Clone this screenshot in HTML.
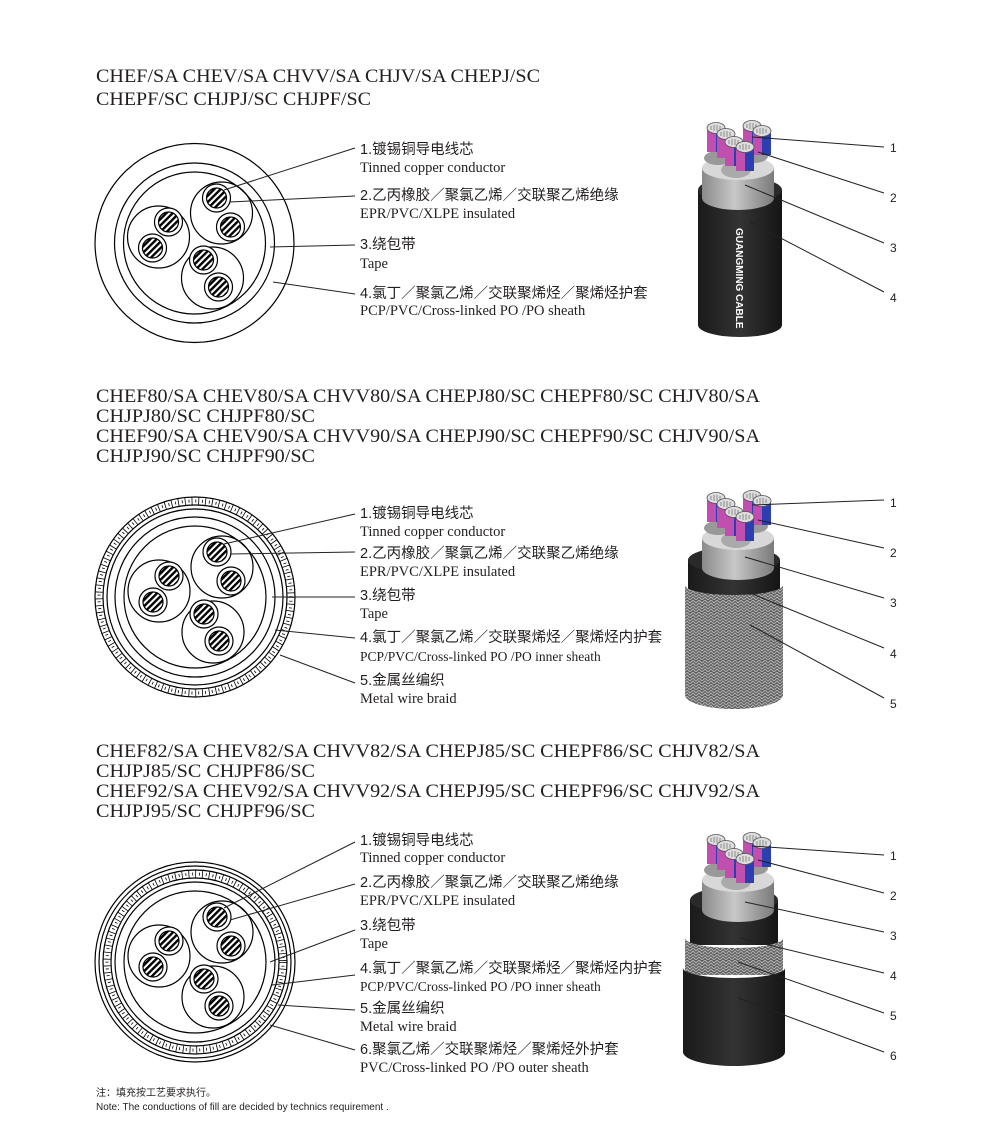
<!DOCTYPE html>
<html><head><meta charset="utf-8"><style>
html,body{margin:0;padding:0;background:#fff;}
svg{display:block}
.t{font-family:"Liberation Serif",serif;font-size:19px;fill:#231f20}
.c{font-family:"Liberation Sans","Noto Sans CJK SC",sans-serif;font-size:14.5px;fill:#231f20}
.e{font-family:"Liberation Serif",serif;font-size:14.5px;fill:#231f20}
.n{font-family:"Liberation Sans",sans-serif;font-size:12px;fill:#231f20}
.f{font-family:"Liberation Sans","Noto Sans CJK SC",sans-serif;font-size:10px;fill:#231f20}
</style></head><body>
<svg width="1000" height="1122" viewBox="0 0 1000 1122" xmlns="http://www.w3.org/2000/svg">
<defs>
<pattern id="st" width="4.5" height="4.5" patternUnits="userSpaceOnUse" patternTransform="rotate(45)">
<rect width="4.5" height="4.5" fill="#fff"/><rect width="2.4" height="4.5" fill="#000"/>
</pattern>
<pattern id="br" width="6" height="6" patternUnits="userSpaceOnUse">
<rect width="6" height="6" fill="#5c5c5c"/>
<path d="M0 3 L3 0 L6 3 M0 6 L3 3 L6 6" stroke="#b0b0b0" stroke-width="1.1" fill="none"/>
</pattern>
<linearGradient id="gr" x1="0" x2="1"><stop offset="0" stop-color="#8a8a8a"/><stop offset=".45" stop-color="#c8c8c8"/><stop offset="1" stop-color="#7a7a7a"/></linearGradient>
<linearGradient id="bk" x1="0" x2="1"><stop offset="0" stop-color="#1a1a1a"/><stop offset=".5" stop-color="#333"/><stop offset="1" stop-color="#151515"/></linearGradient>
<g id="core"><circle r="14" fill="#fff" stroke="#000" stroke-width="1.2"/><circle r="10" fill="url(#st)" stroke="#000" stroke-width="1.2"/></g>
<g id="inner" fill="none" stroke="#000" stroke-width="1.2">
<circle cx="27" cy="-30" r="31"/><circle cx="-36" cy="-6" r="31"/><circle cx="18" cy="35" r="31"/>
<use href="#core" x="22" y="-45"/><use href="#core" x="36" y="-16"/>
<use href="#core" x="-26" y="-21"/><use href="#core" x="-42" y="5"/>
<use href="#core" x="9" y="17"/><use href="#core" x="24" y="44"/>
</g>
<g id="ends">
<rect x="-9" y="0" width="18" height="24" fill="#c04fb0"/><rect x="0" y="0" width="9" height="24" fill="#2b3fb0"/>
<ellipse cx="0" cy="0" rx="9" ry="5.5" fill="#ddd" stroke="#555" stroke-width=".8"/>
<path d="M-5 -2 V2 M-2 -3 V3 M1 -3 V3 M4 -2 V2" stroke="#777" stroke-width=".8"/>
</g>
<g id="top">
<path d="M-36 40 V70 A36 12 0 0 0 36 70 V40 Z" fill="url(#gr)"/>
<ellipse cx="0" cy="40" rx="36" ry="12" fill="#d8d8d8"/>
<ellipse cx="-20" cy="30" rx="14" ry="7" fill="#999"/><ellipse cx="16" cy="28" rx="14" ry="7" fill="#999"/><ellipse cx="-2" cy="42" rx="15" ry="8" fill="#aaa"/>
<use href="#ends" x="-22" y="0"/><use href="#ends" x="-12" y="6"/>
<use href="#ends" x="14" y="-2"/><use href="#ends" x="24" y="3"/>
<use href="#ends" x="-4" y="14"/><use href="#ends" x="7" y="19"/>
</g>
</defs>

<!-- Section 1 -->
<text class="t" x="96" y="82" textLength="444" lengthAdjust="spacingAndGlyphs">CHEF/SA CHEV/SA CHVV/SA CHJV/SA CHEPJ/SC</text>
<text class="t" x="96" y="105" textLength="275" lengthAdjust="spacingAndGlyphs">CHEPF/SC CHJPJ/SC CHJPF/SC</text>
<g transform="translate(194.5,243)" fill="none" stroke="#000" stroke-width="1.2">
<circle r="99.5"/><circle r="80"/><circle r="71"/>
<use href="#inner"/>
</g>
<g stroke="#222" stroke-width="1">
<line x1="224" y1="190" x2="355" y2="148"/><line x1="230" y1="202" x2="355" y2="196"/>
<line x1="270" y1="247" x2="355" y2="245"/><line x1="273" y1="282" x2="355" y2="294"/>
</g>
<text class="c" x="360" y="154">1.镀锡铜导电线芯</text><text class="e" x="360" y="172">Tinned copper conductor</text>
<text class="c" x="360" y="200">2.乙丙橡胶／聚氯乙烯／交联聚乙烯绝缘</text><text class="e" x="360" y="218">EPR/PVC/XLPE insulated</text>
<text class="c" x="360" y="249">3.绕包带</text><text class="e" x="360" y="268">Tape</text>
<text class="c" x="360" y="298">4.氯丁／聚氯乙烯／交联聚烯烃／聚烯烃护套</text><text class="e" x="360" y="315">PCP/PVC/Cross-linked PO /PO sheath</text>
<g>
<path d="M698 190 V325 A42 12 0 0 0 782 325 V190 Z" fill="url(#bk)"/>
<ellipse cx="740" cy="190" rx="42" ry="13" fill="#2a2a2a"/>
<use href="#top" x="738" y="128"/>
<text x="736" y="228" transform="rotate(90 736 228)" font-family="Liberation Sans,sans-serif" font-size="10" font-weight="bold" fill="#fff">GUANGMING CABLE</text>
</g>
<g stroke="#222" stroke-width="1">
<line x1="752" y1="137" x2="884" y2="147"/><line x1="758" y1="152" x2="884" y2="193"/>
<line x1="745" y1="185" x2="884" y2="243"/><line x1="750" y1="222" x2="884" y2="292"/>
</g>
<text class="n" x="890" y="152">1</text><text class="n" x="890" y="202">2</text><text class="n" x="890" y="252">3</text><text class="n" x="890" y="302">4</text>

<!-- Section 2 -->
<text class="t" x="96" y="402" textLength="664" lengthAdjust="spacingAndGlyphs">CHEF80/SA CHEV80/SA CHVV80/SA CHEPJ80/SC CHEPF80/SC CHJV80/SA</text>
<text class="t" x="96" y="422" textLength="219" lengthAdjust="spacingAndGlyphs">CHJPJ80/SC CHJPF80/SC</text>
<text class="t" x="96" y="442" textLength="664" lengthAdjust="spacingAndGlyphs">CHEF90/SA CHEV90/SA CHVV90/SA CHEPJ90/SC CHEPF90/SC CHJV90/SA</text>
<text class="t" x="96" y="462" textLength="219" lengthAdjust="spacingAndGlyphs">CHJPJ90/SC CHJPF90/SC</text>
<g transform="translate(195,597)" fill="none" stroke="#000" stroke-width="1.2">
<circle r="100"/><circle r="92"/>
<circle r="96" stroke-width="7" stroke-dasharray="0.8 6"/>
<circle r="96" stroke-width="3" stroke-dasharray="0.8 6" stroke-dashoffset="3"/>
<circle r="88"/><circle r="80"/><circle r="71"/>
<use href="#inner"/>
</g>
<g stroke="#222" stroke-width="1">
<line x1="224" y1="544" x2="355" y2="514"/><line x1="230" y1="554" x2="355" y2="552"/>
<line x1="272" y1="597" x2="355" y2="597"/><line x1="275" y1="630" x2="355" y2="638"/>
<line x1="280" y1="655" x2="355" y2="683"/>
</g>
<text class="c" x="360" y="518">1.镀锡铜导电线芯</text><text class="e" x="360" y="536">Tinned copper conductor</text>
<text class="c" x="360" y="558">2.乙丙橡胶／聚氯乙烯／交联聚乙烯绝缘</text><text class="e" x="360" y="576">EPR/PVC/XLPE insulated</text>
<text class="c" x="360" y="600">3.绕包带</text><text class="e" x="360" y="618">Tape</text>
<text class="c" x="360" y="642">4.氯丁／聚氯乙烯／交联聚烯烃／聚烯烃内护套</text><text class="e" x="360" y="661" style="font-size:13.5px">PCP/PVC/Cross-linked PO /PO inner sheath</text>
<text class="c" x="360" y="685">5.金属丝编织</text><text class="e" x="360" y="703">Metal wire braid</text>
<g>
<path d="M688 560 V600 H780 V560 Z" fill="url(#bk)"/>
<ellipse cx="734" cy="560" rx="46" ry="13" fill="#2a2a2a"/>
<path d="M685 585 V695 A49 14 0 0 0 783 695 V585 A49 10 0 0 1 685 585 Z" fill="url(#br)"/>
<use href="#top" x="738" y="498"/>
</g>
<g stroke="#222" stroke-width="1">
<line x1="752" y1="505" x2="884" y2="500"/><line x1="758" y1="520" x2="884" y2="548"/>
<line x1="745" y1="557" x2="884" y2="598"/><line x1="750" y1="593" x2="884" y2="648"/>
<line x1="750" y1="625" x2="884" y2="698"/>
</g>
<text class="n" x="890" y="507">1</text><text class="n" x="890" y="557">2</text><text class="n" x="890" y="607">3</text><text class="n" x="890" y="658">4</text><text class="n" x="890" y="708">5</text>

<!-- Section 3 -->
<text class="t" x="96" y="757" textLength="664" lengthAdjust="spacingAndGlyphs">CHEF82/SA CHEV82/SA CHVV82/SA CHEPJ85/SC CHEPF86/SC CHJV82/SA</text>
<text class="t" x="96" y="777" textLength="219" lengthAdjust="spacingAndGlyphs">CHJPJ85/SC CHJPF86/SC</text>
<text class="t" x="96" y="797" textLength="664" lengthAdjust="spacingAndGlyphs">CHEF92/SA CHEV92/SA CHVV92/SA CHEPJ95/SC CHEPF96/SC CHJV92/SA</text>
<text class="t" x="96" y="817" textLength="219" lengthAdjust="spacingAndGlyphs">CHJPJ95/SC CHJPF96/SC</text>
<g transform="translate(195,962)" fill="none" stroke="#000" stroke-width="1.2">
<circle r="100"/><circle r="96"/><circle r="92"/>
<circle r="88" stroke-width="7" stroke-dasharray="0.8 6"/>
<circle r="88" stroke-width="3" stroke-dasharray="0.8 6" stroke-dashoffset="3"/>
<circle r="84"/><circle r="80"/><circle r="71"/>
<use href="#inner"/>
</g>
<g stroke="#222" stroke-width="1">
<line x1="224" y1="908" x2="355" y2="842"/><line x1="230" y1="920" x2="355" y2="884"/>
<line x1="270" y1="962" x2="355" y2="930"/><line x1="272" y1="985" x2="355" y2="975"/>
<line x1="278" y1="1005" x2="355" y2="1010"/><line x1="270" y1="1025" x2="355" y2="1050"/>
</g>
<text class="c" x="360" y="845">1.镀锡铜导电线芯</text><text class="e" x="360" y="862">Tinned copper conductor</text>
<text class="c" x="360" y="887">2.乙丙橡胶／聚氯乙烯／交联聚乙烯绝缘</text><text class="e" x="360" y="905">EPR/PVC/XLPE insulated</text>
<text class="c" x="360" y="930">3.绕包带</text><text class="e" x="360" y="948">Tape</text>
<text class="c" x="360" y="973">4.氯丁／聚氯乙烯／交联聚烯烃／聚烯烃内护套</text><text class="e" x="360" y="991" style="font-size:13.5px">PCP/PVC/Cross-linked PO /PO inner sheath</text>
<text class="c" x="360" y="1013">5.金属丝编织</text><text class="e" x="360" y="1031">Metal wire braid</text>
<text class="c" x="360" y="1054">6.聚氯乙烯／交联聚烯烃／聚烯烃外护套</text><text class="e" x="360" y="1072">PVC/Cross-linked PO /PO outer sheath</text>
<g>
<path d="M690 900 V945 H778 V900 Z" fill="url(#bk)"/>
<ellipse cx="734" cy="900" rx="44" ry="13" fill="#2a2a2a"/>
<path d="M685 938 V975 H783 V938 A49 10 0 0 1 685 938 Z" fill="url(#br)"/>
<path d="M683 968 V1052 A51 14 0 0 0 785 1052 V968 A51 10 0 0 1 683 968 Z" fill="url(#bk)"/>
<use href="#top" x="738" y="840"/>
</g>
<g stroke="#222" stroke-width="1">
<line x1="752" y1="846" x2="884" y2="855"/><line x1="758" y1="860" x2="884" y2="893"/>
<line x1="745" y1="902" x2="884" y2="932"/><line x1="740" y1="938" x2="884" y2="973"/>
<line x1="738" y1="962" x2="884" y2="1013"/><line x1="738" y1="998" x2="884" y2="1052"/>
</g>
<text class="n" x="890" y="860">1</text><text class="n" x="890" y="900">2</text><text class="n" x="890" y="940">3</text><text class="n" x="890" y="980">4</text><text class="n" x="890" y="1020">5</text><text class="n" x="890" y="1060">6</text>

<text class="f" x="96" y="1096">注：填充按工艺要求执行。</text>
<text class="f" x="96" y="1110">Note: The conductions of fill are decided by technics requirement .</text>
</svg>
</body></html>
